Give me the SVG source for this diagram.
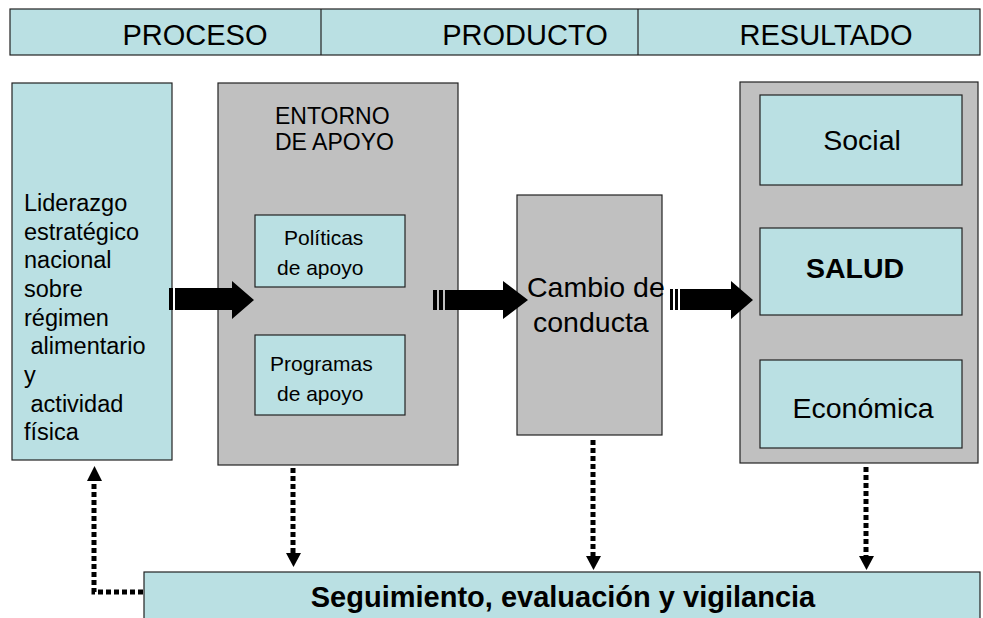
<svg xmlns="http://www.w3.org/2000/svg" width="983" height="618" viewBox="0 0 983 618">
<style>
.b{fill:#BAE0E3;stroke:#222;stroke-width:1.2}
.g{fill:#C0C0C0;stroke:#222;stroke-width:1.2}
text{font-family:"Liberation Sans",Arial,sans-serif;fill:#000}
.h{font-size:29px;text-anchor:middle}
.t{font-size:23.5px}
.s{font-size:21px}
.e{font-size:23px}
.r{font-size:28.5px;text-anchor:middle}
.d{fill:none;stroke:#000;stroke-width:5;stroke-dasharray:5 3}
</style>
<rect width="983" height="618" fill="#fff"/>
<g id="header">
<rect class="b" x="10" y="9" width="970" height="46"/>
<line x1="321" y1="9" x2="321" y2="55" stroke="#222" stroke-width="1.2"/>
<line x1="638" y1="9" x2="638" y2="55" stroke="#222" stroke-width="1.2"/>
<text class="h" x="195" y="45">PROCESO</text>
<text class="h" x="525" y="45">PRODUCTO</text>
<text class="h" x="826" y="45">RESULTADO</text>
</g>
<g id="liderazgo">
<rect class="b" x="12" y="83" width="160" height="377"/>
<text class="t" x="24" y="211">Liderazgo</text>
<text class="t" x="24" y="240">estratégico</text>
<text class="t" x="24" y="268">nacional</text>
<text class="t" x="24" y="297">sobre</text>
<text class="t" x="24" y="326">régimen</text>
<text class="t" x="24" y="354" xml:space="preserve"> alimentario</text>
<text class="t" x="24" y="383">y</text>
<text class="t" x="24" y="412" xml:space="preserve"> actividad</text>
<text class="t" x="24" y="440">física</text>
</g>
<g id="entorno">
<rect class="g" x="218" y="83" width="240" height="382"/>
<text class="e" x="275" y="124">ENTORNO</text>
<text class="e" x="275" y="150">DE APOYO</text>
</g>
<g id="politicas">
<rect class="b" x="255" y="215" width="150" height="72"/>
<text class="s" x="284" y="245">Políticas</text>
<text class="s" x="277" y="275">de apoyo</text>
</g>
<g id="programas">
<rect class="b" x="255" y="335" width="150" height="80"/>
<text class="s" x="270" y="371">Programas</text>
<text class="s" x="277" y="401">de apoyo</text>
</g>
<g id="cambio">
<rect class="g" x="517" y="195" width="145" height="240"/>
<text x="527" y="297" font-size="28.5">Cambio de</text>
<text x="533" y="332" font-size="28.5">conducta</text>
</g>
<g id="resultado">
<rect class="g" x="740" y="82" width="238" height="381"/>
</g>
<g id="social">
<rect class="b" x="760" y="95" width="202" height="90"/>
<text class="r" x="862" y="150">Social</text>
</g>
<g id="salud">
<rect class="b" x="760" y="228" width="202" height="87"/>
<text class="r" x="855" y="278" font-weight="bold">SALUD</text>
</g>
<g id="economica">
<rect class="b" x="760" y="360" width="202" height="88"/>
<text class="r" x="863" y="418">Económica</text>
</g>
<g id="seguimiento">
<rect class="b" x="144" y="572" width="836" height="50"/>
<text x="563" y="607" font-size="29" font-weight="bold" text-anchor="middle">Seguimiento, evaluación y vigilancia</text>
</g>
<g id="connectors">
<rect x="169" y="288" width="4" height="22" fill="#000"/>
<path d="M175,288 H232 V281 L254,300 L232,319 V310 H175 Z" fill="#000"/>
<rect x="433" y="290" width="4" height="20" fill="#000"/>
<rect x="439" y="290" width="4" height="20" fill="#000"/>
<path d="M445,290 H503 V281 L528,300 L503,319 V310 H445 Z" fill="#000"/>
<rect x="670" y="289" width="3" height="21" fill="#000"/>
<rect x="675" y="289" width="3" height="21" fill="#000"/>
<path d="M680,289 H731 V281 L753,300 L731,319 V310 H680 Z" fill="#000"/>
<path class="d" d="M143,592 H94 V476"/>
<path d="M87,481 L94.5,466 L102,481 Z" fill="#000"/>
<path class="d" d="M293,468 V554"/>
<path d="M286,553 L293.5,567 L301,553 Z" fill="#000"/>
<path class="d" d="M593,440 V557"/>
<path d="M586,556 L593.5,570 L601,556 Z" fill="#000"/>
<path class="d" d="M866,467 V557"/>
<path d="M859,556 L866.5,570 L874,556 Z" fill="#000"/>
</g>
</svg>
